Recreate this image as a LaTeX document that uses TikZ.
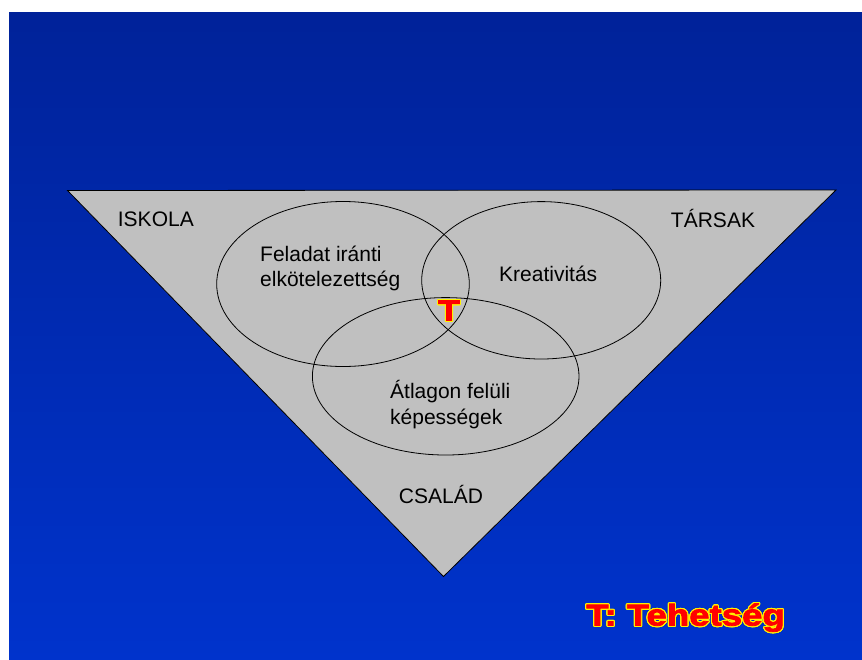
\documentclass[tikz,border=0pt]{standalone}
\usepackage{fontspec}
\setmainfont{Liberation Sans}
\newfontfamily\heavyfont[FakeStretch=1.22,FakeBold=2.5]{Liberation Sans Bold}
\usepackage[copies]{contour}
\contournumber{24}
\contourlength{1.1pt}
\definecolor{slidetop}{RGB}{0,34,153}
\definecolor{slidebottom}{RGB}{0,51,204}
\definecolor{panel}{RGB}{192,192,192}

\begin{document}
\begin{tikzpicture}[x=1pt,y=-1pt,
  lbl/.style={inner sep=0pt,font=\fontsize{21}{25}\selectfont,align=left},
  ring/.style={draw,line width=0.8pt},
  tmark/.style={inner sep=0pt,text=red}]
  \useasboundingbox (0,0) rectangle (862,659);
  \shade[top color=slidetop,bottom color=slidebottom] (9,12) rectangle (862,659);
  \filldraw[fill=panel,draw=black,line width=0.8pt] (67.5,190.5) -- (836,190) -- (443.5,576.5) -- cycle;
  \draw[ring] (343,284) ellipse [x radius=126.3,y radius=82.5];
  \draw[ring] (541.2,280.3) ellipse [x radius=119.5,y radius=78.7];
  \draw[ring] (445.7,376.3) ellipse [x radius=133.3,y radius=78.7];
  \node[lbl,anchor=base west] (feladat) at (260,286.7) {Feladat iránti\\elkötelezettség};
  \node[lbl,anchor=base west] (kreativ) at (499,281.7) {Kreativitás};
  \node[lbl,anchor=base west,font=\fontsize{21}{26}\selectfont] (atlag) at (390,424.3) {Átlagon felüli\\képességek};
  \node[lbl,anchor=base west] (iskola) at (117.7,226) {ISKOLA};
  \node[lbl,anchor=base] (tarsak) at (713,227) {TÁRSAK};
  \node[lbl,anchor=base] (csalad) at (441,503) {CSALÁD};
  \node[tmark,anchor=base,font=\heavyfont\fontsize{29}{36}\selectfont] (tmid) at (449,320.5) {\contour{yellow}{T}};
  \node[tmark,anchor=base west,font=\heavyfont\fontsize{30}{36}\selectfont] (legend) at (586,625.5) {\contour{yellow}{T: Tehetség}};
\end{tikzpicture}
\end{document}
